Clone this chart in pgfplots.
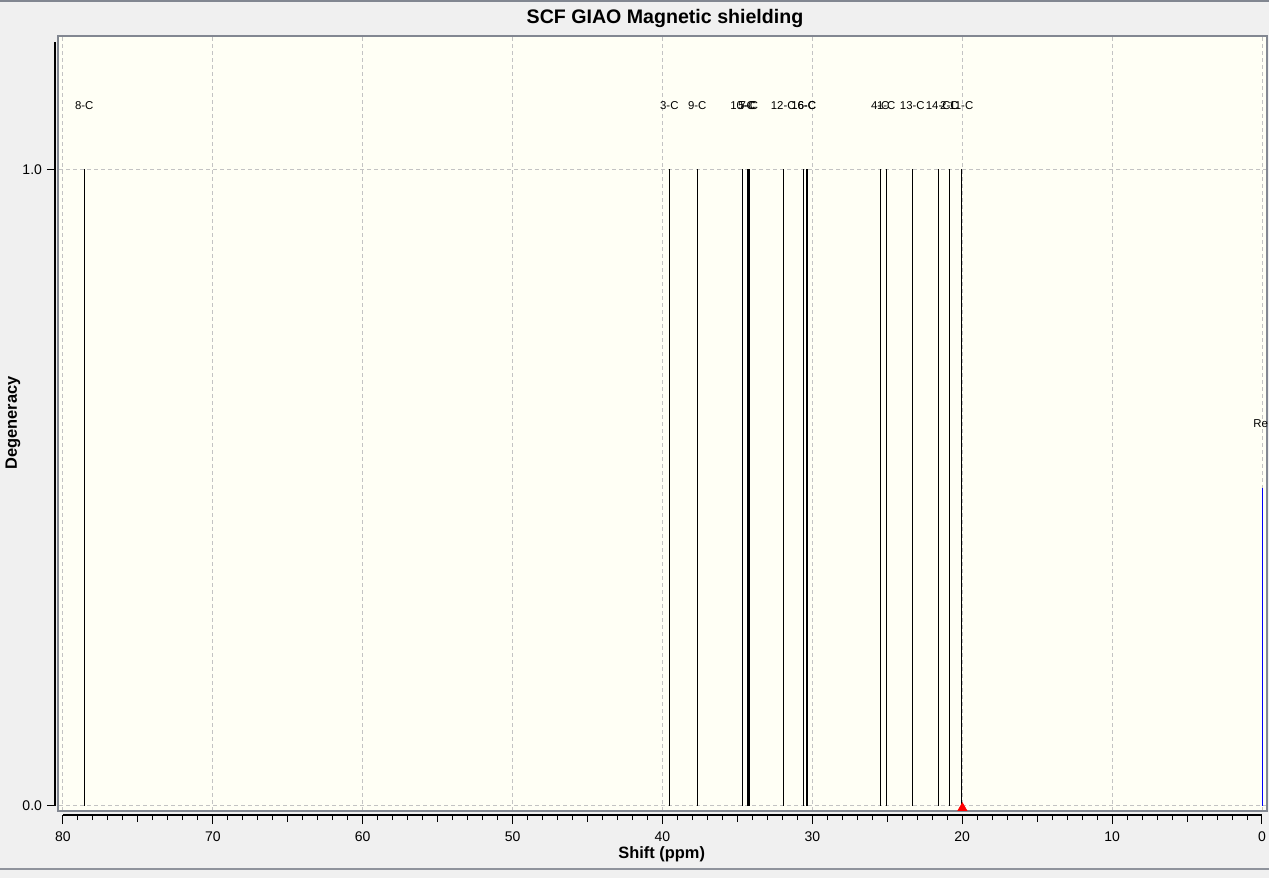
\documentclass[border=0pt]{standalone}
\usepackage{fontspec}
\setmainfont{Liberation Sans}
\usepackage{pgfplots}
\usepackage{pgfplotstable}
\pgfplotsset{compat=1.18}
\definecolor{bggray}{RGB}{240,240,240}
\definecolor{ivory}{RGB}{255,255,245}
\definecolor{framegray}{RGB}{130,135,145}
\definecolor{gridgray}{RGB}{195,195,195}
\pgfplotstableread{
x y label
78.58 1 8-C
39.55 1 3-C
37.69 1 9-C
34.66 1 10-C
34.35 1 5-C
34.24 1 7-C
31.95 1 12-C
30.59 1 16-C
30.37 1 6-C
25.48 1 4-C
25.08 1 1-C
23.34 1 13-C
21.61 1 14-C
20.87 1 2-C
20.07 1 11-C
}\peaks
\pgfplotstableread{
x y label
0 0.5 Ref
}\refpeak
\begin{document}
\begin{tikzpicture}
\fill[bggray] (0,0) rectangle (634.5pt,439pt);
\draw[framegray, line width=1pt] (0,438.7pt) -- (634.5pt,438.7pt);
\draw[framegray!90, line width=1.2pt] (0,4.5pt) -- (634.5pt,4.5pt);
% main plotting box
\begin{axis}[
  at={(29pt,33.5pt)}, anchor=south west,
  scale only axis, width=604.5pt, height=387.5pt,
  xmin=-0.32, xmax=80.33, ymin=-0.00785, ymax=1.209,
  x dir=reverse,
  axis background/.style={fill=ivory},
  axis line style={draw=framegray, line width=0.7pt},
  xtick={0,10,...,80}, ytick={0,1},
  xticklabels={}, yticklabels={},
  major tick length=0pt, tick style={draw=none},
  grid=major,
  major grid style={draw=gridgray, line width=0.5pt, dash pattern=on 2pt off 1.5pt},
  clip marker paths=true,
  nodes near coords={\pgfplotspointmeta},
  point meta=explicit symbolic,
  every node near coord/.append style={font=\fontsize{5.7}{6}\selectfont, anchor=center, yshift=32pt, inner sep=0pt, black},
]
\addplot[ycomb, black, line width=0.6pt, mark=none] table[x=x, y=y, meta=label] {\peaks};
\addplot[ycomb, blue, line width=0.6pt, mark=none] table[x=x, y=y, meta=label] {\refpeak};
\addplot[only marks, mark=triangle*, mark size=2.7pt, red, nodes near coords={}] coordinates {(20.0,-0.0036)};
\end{axis}
% x spine
\begin{axis}[
  at={(31.5pt,31.5pt)}, anchor=south west,
  scale only axis, width=599.5pt, height=2pt,
  xmin=0, xmax=80, ymin=0, ymax=1, x dir=reverse,
  axis x line=bottom, axis y line=none,
  axis line style={-, black, line width=1pt},
  xtick={0,10,...,80},
  minor xtick={1,...,79},
  extra x ticks={5,15,...,75}, extra x tick labels={},
  extra x tick style={major tick length=3.5pt},
  tick align=outside,
  major tick length=4.5pt, minor tick length=2.5pt,
  tick style={black, line width=0.5pt},
  xticklabel style={font=\fontsize{7}{8}\selectfont, yshift=-0.5pt},
  /pgf/number format/assume math mode=true,
]
\addplot[draw=none] coordinates {(0,0)};
\end{axis}
% y spine
\begin{axis}[
  at={(27.5pt,36pt)}, anchor=south west,
  scale only axis, width=2pt, height=382pt,
  xmin=0, xmax=1, ymin=0, ymax=1.2,
  axis y line=left, axis x line=none,
  axis line style={-, black, line width=1pt},
  ytick={0,1}, yticklabels={0.0,1.0},
  tick align=outside, major tick length=4pt,
  tick style={black, line width=0.5pt},
  yticklabel style={font=\fontsize{7}{8}\selectfont, xshift=1pt},
]
\addplot[draw=none] coordinates {(0,0)};
\end{axis}
\node[font=\fontsize{9.8}{11}\selectfont\bfseries] at (332.5pt,429.85pt) {SCF GIAO Magnetic shielding};
\node[font=\fontsize{8.2}{10}\selectfont\bfseries] at (330.85pt,11.85pt) {Shift (ppm)};
\node[font=\fontsize{8.2}{10}\selectfont\bfseries, rotate=90] at (6.5pt,227.5pt) {Degeneracy};
\pgfresetboundingbox
\path (0,0) rectangle (634.5pt,439pt);
\end{tikzpicture}
\end{document}
